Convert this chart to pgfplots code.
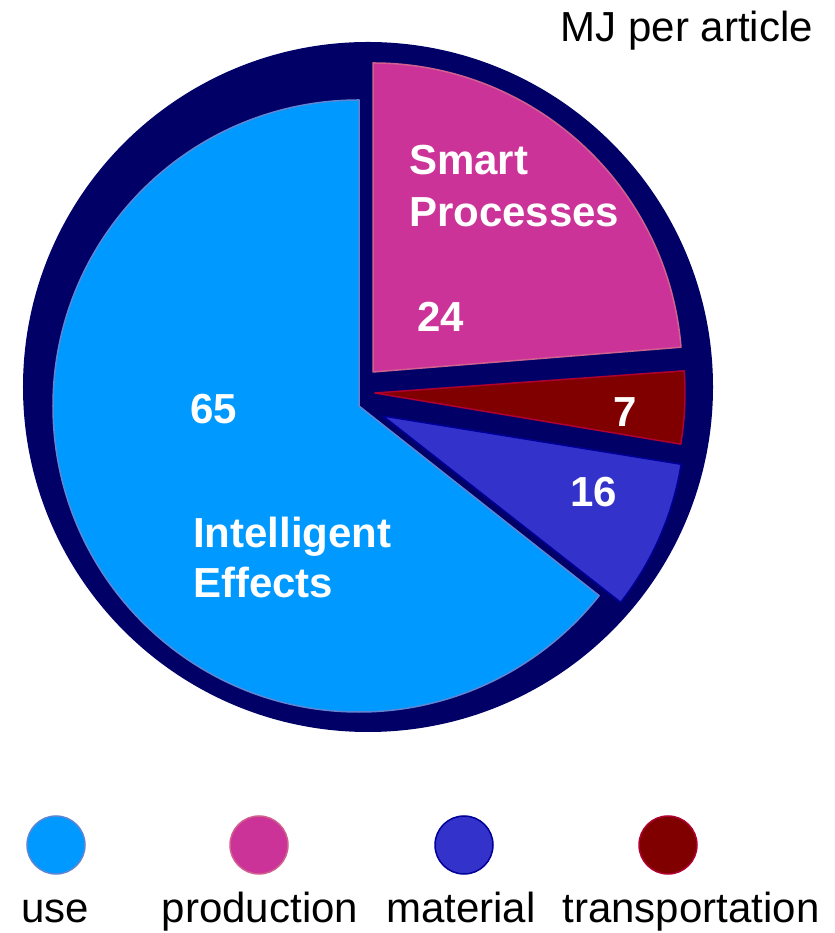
\documentclass[border=0pt]{standalone}
\usepackage{pgfplots}
\pgfplotsset{compat=1.18}
\usepackage{fontspec}
\setmainfont{Liberation Sans}
\definecolor{navybg}{HTML}{000066}
\definecolor{usecol}{HTML}{0099FF}
\definecolor{useline}{HTML}{5F86D2}
\definecolor{prodcol}{HTML}{CC3399}
\definecolor{prodline}{HTML}{D2608E}
\definecolor{matcol}{HTML}{3333CC}
\definecolor{matline}{HTML}{000099}
\definecolor{transcol}{HTML}{800000}
\definecolor{transline}{HTML}{B00030}
\tikzset{
  wlab/.style={anchor=base west, text=white, inner sep=0pt, font=\fontsize{42bp}{52bp}\selectfont\bfseries},
  blab/.style={anchor=base, text=black, inner sep=0pt, font=\fontsize{42bp}{52bp}\selectfont}}
\begin{document}
\begin{tikzpicture}
\begin{axis}[x=1bp, y=1bp, xmin=0, xmax=835, ymin=0, ymax=933,
  hide axis, clip=false]
\path (axis cs:0,0) rectangle (axis cs:835,933);
% background disc
\fill[navybg] (axis cs:368,546) circle[radius=345bp];
% use: 65, angles 90 -> 321.7
\filldraw[fill=usecol, draw=useline, line width=1.5bp, line join=round]
  (axis cs:359,527) -- ++(90:306bp) arc[start angle=90, end angle=321.7, radius=306bp] -- cycle;
% production: 24, angles 4.6 -> 90
\filldraw[fill=prodcol, draw=prodline, line width=1.5bp, line join=round]
  (axis cs:373,561) -- ++(4.6:309bp) arc[start angle=4.6, end angle=90, radius=309bp] -- cycle;
% transportation: 7, angles -9.5 -> 4.1
\filldraw[fill=transcol, draw=transline, line width=1.5bp, line join=round]
  (axis cs:375,540) -- ++(-9.5:310bp) arc[start angle=-9.5, end angle=4.1, radius=310bp] -- cycle;
% material: 16, angles -38.1 -> -9.2
\filldraw[fill=matcol, draw=matline, line width=1.5bp, line join=round]
  (axis cs:383,517) -- ++(-38.1:302bp) arc[start angle=-38.1, end angle=-9.2, radius=302bp] -- cycle;
% labels
\node[wlab] at (axis cs:409,758) {Smart};
\node[wlab] at (axis cs:409,706) {Processes};
\node[wlab] at (axis cs:417,601) {24};
\node[wlab] at (axis cs:190,509) {65};
\node[wlab] at (axis cs:613,506) {7};
\node[wlab] at (axis cs:570,426) {16};
\node[wlab] at (axis cs:193,385) {Intelligent};
\node[wlab] at (axis cs:193,335) {Effects};
\node[blab, anchor=base east] at (axis cs:813,891) {MJ per article};
% legend markers
\addplot[only marks, mark=*, mark size=29bp, mark options={fill=usecol, draw=useline, line width=1.5bp}] coordinates {(56,88)};
\addplot[only marks, mark=*, mark size=29bp, mark options={fill=prodcol, draw=prodline, line width=1.5bp}] coordinates {(259,88)};
\addplot[only marks, mark=*, mark size=29bp, mark options={fill=matcol, draw=matline, line width=1.5bp}] coordinates {(464,88)};
\addplot[only marks, mark=*, mark size=29bp, mark options={fill=transcol, draw=transline, line width=1.5bp}] coordinates {(668,88)};
\node[blab] at (axis cs:55,10) {use};
\node[blab] at (axis cs:260,10) {production};
\node[blab] at (axis cs:461,10) {material};
\node[blab] at (axis cs:691,10) {transportation};
\end{axis}
\end{tikzpicture}
\end{document}
